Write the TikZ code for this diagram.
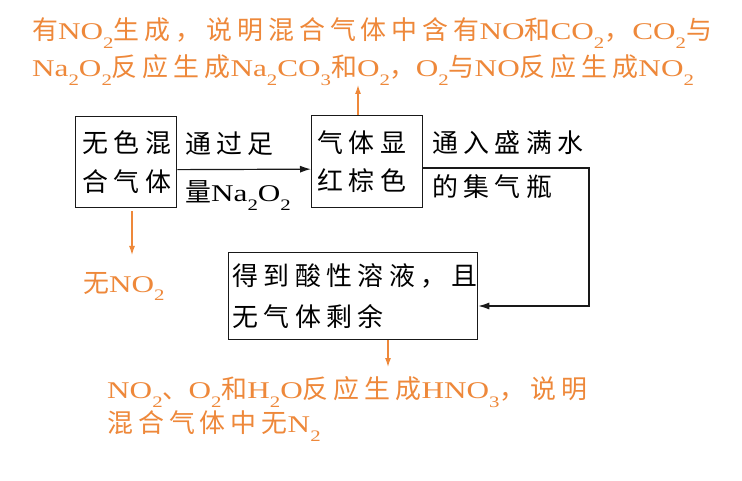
\documentclass[tikz,border=0pt]{standalone}
\usepackage{fontspec}
\setmainfont{Liberation Serif}[FakeStretch=1.3]
\newfontfamily\zhfont{Noto Sans CJK SC}[Scale=1.08]
\usetikzlibrary{arrows.meta}
\definecolor{oc}{RGB}{238,136,58}
\definecolor{lc}{RGB}{25,25,25}
\newdimen\zhsp
\makeatletter
\newcommand\zh[1]{{\zhfont\@tfor\zc:=#1\do{\zc\kern\zhsp}\unkern}}
\makeatother
\newcommand\dn[1]{\raisebox{-9pt}{\fontsize{16}{16}\selectfont #1}}
\newcommand\fo{\fontsize{24}{24}\selectfont\zhsp=5pt\relax}
\newcommand\fb{\fontsize{24}{24}\selectfont\zhsp=5.4pt\relax}
\begin{document}
\begin{tikzpicture}[x=1pt,y=-1pt,
  otext/.style={text=oc, inner sep=0pt, anchor=base west, font=\fo},
  btext/.style={text=black, inner sep=0pt, anchor=base west, font=\fb},
  box/.style={draw=lc, line width=1.3pt, anchor=north west, align=left, inner ysep=0pt, text=black},
  arr/.style={draw=lc, line width=1.2pt, -{Latex[length=11pt,width=7pt]}},
  oarr/.style={draw=oc, line width=1.2pt, -{Latex[length=9pt,width=6pt]}}]
\fill[white] (0,0) rectangle (742,481);
\useasboundingbox (0,0) rectangle (742,481);
% orange top text
\node[otext] (ot1) at (32,40) {\zh{有}NO\dn{2}\zh{生成，说明混合气体中含有}NO\zh{和}CO\dn{2}\zh{，}\hspace{2pt}CO\dn{2}\zh{与}};
\node[otext] (ot2) at (32,77) {Na\dn{2}O\dn{2}\zh{反应生成}Na\dn{2}CO\dn{3}\zh{和}O\dn{2}\zh{，}O\dn{2}\zh{与}NO\zh{反应生成}NO\dn{2}};
% boxes
\node[box, minimum width=101pt, minimum height=91pt, text width=87pt, inner xsep=7pt,
  font={\fontsize{24}{39}\selectfont\zhsp=5.4pt\relax}] (b1) at (75,116) {\zh{无色混}\\\zh{合气体}};
\node[box, minimum width=111pt, minimum height=92pt, text width=99pt, inner xsep=6pt,
  font={\fontsize{24}{38}\selectfont\zhsp=5.4pt\relax}] (b2) at (311,115) {\zh{气体显}\\\zh{红棕色}};
\node[box, minimum width=249pt, minimum height=87pt, text width=241pt, inner xsep=4pt,
  font={\fontsize{24}{41}\selectfont\zhsp=5.4pt\relax}] (b3) at (228,252) {\zh{得到酸性溶液，且}\\\zh{无气体剩余}};
% labels
\node[btext] (l1) at (185,154) {\zh{通过足}};
\node[btext] (l2) at (185,202) {\zh{量}Na\dn{2}O\dn{2}};
\node[btext] (l3) at (432,153) {\zh{通入盛满水}};
\node[btext] (l4) at (432,197) {\zh{的集气瓶}};
% orange side texts
\node[otext] (ono) at (83,292) {\zh{无}NO\dn{2}};
\node[otext] (ob1) at (107,398) {NO\dn{2}\zh{、}O\dn{2}\zh{和}H\dn{2}O\zh{反应生成}HNO\dn{3}\zh{，说明}};
\node[otext] (ob2) at (107,432) {\zh{混合气体中无}N\dn{2}};
% connectors
\draw[arr] ([yshift=-7.5pt]b1.east) -- ([yshift=-7.5pt]b2.west);
\coordinate (c1) at (589,168);
\coordinate (c2) at (589,306);
\draw[arr] (b2.east |- c1) -- (c1) -- (c2) -- (b3.east |- c2);
\coordinate (u1) at (358,85);
\draw[oarr] (b2.north -| u1) -- (u1);
\coordinate (d1) at (132,255);
\draw[oarr, shorten <=3pt] (b1.south -| d1) -- (d1);
\coordinate (d2) at (388,367);
\draw[oarr] (b3.south -| d2) -- (d2);
\end{tikzpicture}
\end{document}
